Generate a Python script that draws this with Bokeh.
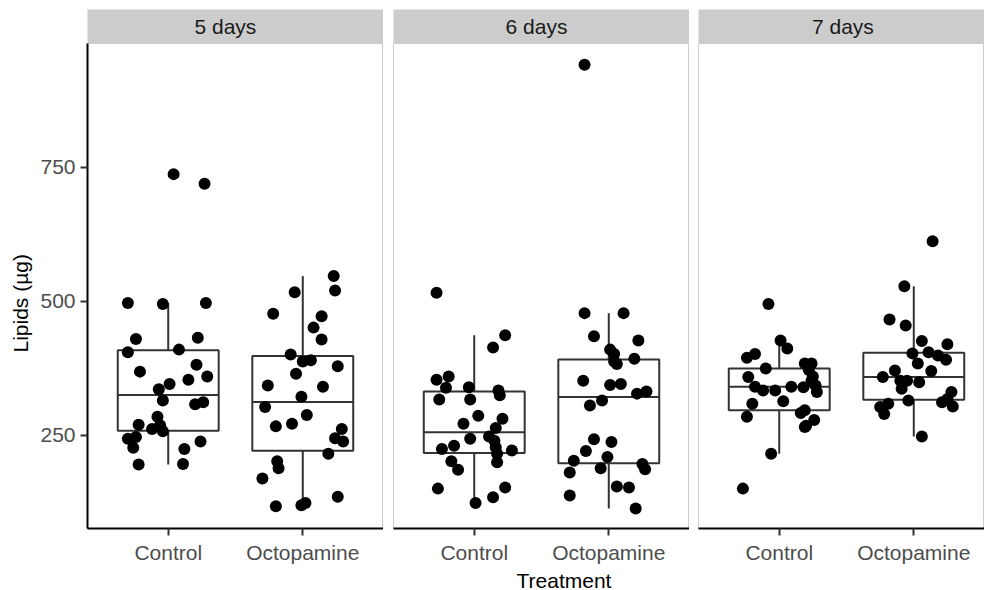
import numpy as np
from bokeh.plotting import figure
from bokeh.layouts import column, row
from bokeh.models import Range1d, FixedTicker, Label, Title
from bokeh.embed import file_html
from bokeh.resources import INLINE

# ---------------- data ----------------
days = ["5 days", "6 days", "7 days"]
treatments = ["Control", "Octopamine"]
y_ticks = [250, 500, 750]
y_title = "Lipids (µg)"
x_title = "Treatment"

ctrl_5d = [497, 495, 497, 430, 432, 405, 410, 369, 382, 360, 346, 354, 336, 315, 308,
           312, 285, 270, 262, 269, 258, 244, 247, 227, 225, 239, 196, 197, 737, 719]
ctrl_5d_jit = [-0.30, -0.04, 0.28, -0.24, 0.22, -0.30, 0.08, -0.21, 0.21, 0.29, 0.01, 0.15, -0.07, -0.04, 0.20,
               0.26, -0.08, -0.22, -0.12, -0.06, -0.04, -0.30, -0.24, -0.26, 0.12, 0.24, -0.22, 0.11, 0.04, 0.27]

octo_5d = [547, 520, 517, 477, 472, 451, 429, 401, 388, 390, 379, 365, 343, 341, 322,
           303, 288, 272, 267, 262, 245, 239, 216, 202, 189, 170, 136, 118, 120, 124]
octo_5d_jit = [0.23, 0.24, -0.06, -0.22, 0.14, 0.08, 0.14, -0.09, 0.00, 0.06, 0.26, -0.05, -0.26, 0.15, -0.01,
               -0.28, 0.03, -0.08, -0.20, 0.29, 0.24, 0.30, 0.19, -0.19, -0.18, -0.30, 0.26, -0.20, -0.01, 0.02]

ctrl_6d = [516, 437, 414, 354, 360, 339, 340, 317, 317, 334, 325, 287, 281, 272, 264,
           248, 244, 225, 231, 228, 222, 216, 200, 202, 186, 151, 153, 135, 124, 240]
ctrl_6d_jit = [-0.28, 0.23, 0.14, -0.28, -0.19, -0.21, -0.04, -0.26, -0.03, 0.18, 0.19, 0.03, 0.21, -0.08, 0.16,
               0.11, -0.03, -0.24, -0.15, 0.16, 0.28, 0.17, 0.17, -0.17, -0.12, -0.27, 0.23, 0.14, 0.01, 0.15]

octo_6d = [941, 478, 478, 435, 427, 410, 402, 388, 383, 393, 352, 344, 346, 328, 332,
           315, 306, 243, 238, 221, 210, 203, 189, 181, 197, 187, 138, 155, 153, 114]
octo_6d_jit = [-0.18, -0.18, 0.11, -0.11, 0.22, 0.01, 0.04, 0.04, 0.06, 0.19, -0.19, 0.01, 0.09, 0.21, 0.28,
               -0.05, -0.14, -0.11, 0.02, -0.17, -0.01, -0.26, -0.06, -0.29, 0.25, 0.27, -0.29, 0.06, 0.15, 0.20]

ctrl_7d = [495, 427, 412, 395, 402, 375, 384, 384, 359, 341, 334, 334, 341, 340, 352,
           343, 331, 314, 309, 285, 297, 279, 266, 216, 151, 268, 292, 360, 372]
ctrl_7d_jit = [-0.08, 0.01, 0.06, -0.24, -0.18, -0.10, 0.19, 0.24, -0.23, -0.18, -0.12, -0.03, 0.09, 0.18, 0.24,
               0.27, 0.28, 0.03, -0.20, -0.24, 0.19, 0.26, 0.19, -0.06, -0.27, 0.20, 0.16, 0.25, 0.22]

octo_7d = [612, 528, 466, 455, 426, 420, 403, 405, 399, 391, 384, 370, 371, 359, 352,
           352, 337, 349, 315, 303, 309, 290, 331, 312, 304, 318, 248]
octo_7d_jit = [0.14, -0.07, -0.18, -0.06, 0.06, 0.25, -0.01, 0.11, 0.18, 0.24, 0.03, 0.13, -0.14, -0.23, -0.10,
               -0.05, -0.09, 0.04, -0.04, -0.25, -0.19, -0.22, 0.28, 0.21, 0.29, 0.25, 0.06]

series = {
    "5 days": [(ctrl_5d, ctrl_5d_jit), (octo_5d, octo_5d_jit)],
    "6 days": [(ctrl_6d, ctrl_6d_jit), (octo_6d, octo_6d_jit)],
    "7 days": [(ctrl_7d, ctrl_7d_jit), (octo_7d, octo_7d_jit)],
}

# ---------------- styling ----------------
FONT = "Liberation Sans"
FS = "21px"
FRAME_H = 485
PANEL_W = [296, 296, 286]
LEFT_B = [87, 10, 9]
STRIP_TEXT_X = [0.466, 0.483, 0.505]
UNIT = 296 / 2.2          # px per category unit
Y_LO, Y_HI = 76.7, 980.4
BOX_HALF = 0.375


def box_stats(v):
    v = np.asarray(v, float)
    q1, med, q3 = np.percentile(v, [25, 50, 75])
    iqr = q3 - q1
    lo = v[v >= q1 - 1.5 * iqr].min()
    hi = v[v <= q3 + 1.5 * iqr].max()
    return q1, med, q3, lo, hi


def style_axis(ax):
    ax.minor_tick_line_color = None
    ax.axis_line_color = "black"
    ax.axis_line_width = 2
    ax.major_tick_line_color = "#333333"
    ax.major_tick_line_width = 2
    ax.major_tick_out = 7
    ax.major_tick_in = 0
    ax.major_label_text_font = FONT
    ax.major_label_text_font_size = FS
    ax.major_label_text_color = "#4D4D4D"
    ax.major_label_standoff = 5


strips, panels = [], []
for i, day in enumerate(days):
    fw = PANEL_W[i]
    x_end = 0.4 + fw / UNIT

    # strip header
    s = figure(frame_width=fw, frame_height=34, x_range=Range1d(0, 1), y_range=Range1d(0, 1),
               min_border_left=LEFT_B[i], min_border_right=0, min_border_top=9, min_border_bottom=0,
               x_axis_location=None, y_axis_location=None, toolbar_location=None,
               output_backend="svg", background_fill_color="#CCCCCC", outline_line_color=None,
               border_fill_color="white")
    s.grid.visible = False
    s.add_layout(Label(x=STRIP_TEXT_X[i], y=0.5, text=day, text_align="center", text_baseline="middle",
                       text_font=FONT, text_font_size=FS, text_color="#1A1A1A"))
    strips.append(s)

    p = figure(frame_width=fw, frame_height=FRAME_H, x_range=Range1d(0.4, x_end),
               y_range=Range1d(Y_LO, Y_HI),
               min_border_left=LEFT_B[i], min_border_right=0, min_border_top=0, min_border_bottom=62,
               y_axis_location="left" if i == 0 else None, toolbar_location=None,
               output_backend="svg", background_fill_color="white", border_fill_color="white",
               outline_line_color="#CCCCCC", outline_line_width=1)
    p.grid.visible = False

    for k, (vals, jit) in enumerate(series[day]):
        xc = k + 1
        q1, med, q3, lo, hi = box_stats(vals)
        p.segment(x0=[xc, xc], y0=[q3, q1], x1=[xc, xc], y1=[hi, lo],
                  line_color="#333333", line_width=2)
        p.quad(left=[xc - BOX_HALF], right=[xc + BOX_HALF], bottom=[q1], top=[q3],
               fill_color="white", line_color="#333333", line_width=2)
        p.segment(x0=[xc - BOX_HALF], y0=[med], x1=[xc + BOX_HALF], y1=[med],
                  line_color="#333333", line_width=2)
    for k, (vals, jit) in enumerate(series[day]):
        xs = [k + 1 + j for j in jit]
        p.scatter(xs, vals, size=12, fill_color="black", line_color="black", line_width=0)

    ax = p.xaxis[0]
    ax.ticker = FixedTicker(ticks=[1, 2])
    ax.major_label_overrides = {1: treatments[0], 2: treatments[1]}
    style_axis(ax)

    if i == 0:
        ay = p.yaxis[0]
        ay.ticker = FixedTicker(ticks=y_ticks)
        style_axis(ay)
        p.add_layout(Title(text=y_title, align="left", offset=176, standoff=8,
                           vertical_align="top",
                           text_font=FONT, text_font_size=FS, text_font_style="normal",
                           text_color="black"), "left")
    if i == 1:
        p.add_layout(Title(text=x_title, align="left", offset=123, standoff=0,
                           text_font=FONT, text_font_size=FS, text_font_style="normal",
                           text_color="black"), "below")
    panels.append(p)

layout = column(row(*strips, spacing=0), row(*panels, spacing=0), spacing=0)
open("out.html", "w").write(file_html(layout, INLINE))
